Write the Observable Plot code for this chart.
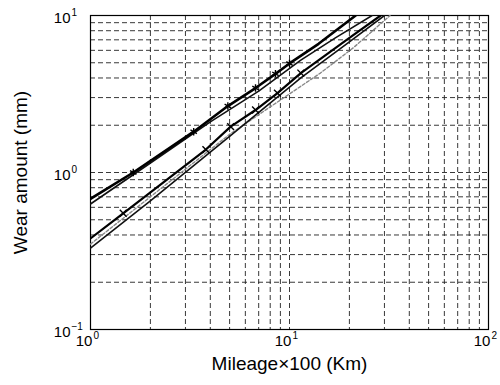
<!DOCTYPE html>
<html>
<head>
<meta charset="utf-8">
<script src="https://cdn.jsdelivr.net/npm/d3@7"></script>
<script src="https://cdn.jsdelivr.net/npm/@observablehq/plot@0.6"></script>
<style>
  html, body { margin: 0; padding: 0; background: #fff; }
  svg { font-family: "Liberation Sans", Arial, sans-serif; }
</style>
</head>
<body>
<div id="chart"></div>
<script>
// ---- data ----
const upper1X = [1, 1.64, 3.3, 4.9, 6.75, 8.5, 10, 14, 21.5];
const upper1Y = [0.68, 1.0, 1.82, 2.65, 3.45, 4.25, 4.95, 6.6, 10];
const upper1Markers = [1.64, 3.3, 4.9, 6.75, 8.5, 10];

const upper2X = [1, 2, 4, 7, 11.4, 17, 26];
const upper2Y = [0.63, 1.15, 2.1, 3.3, 5.2, 7.2, 10];

const lower1X = [1, 1.46, 3.8, 5.06, 6.75, 8.7, 11.4, 20, 28.7];
const lower1Y = [0.38, 0.55, 1.4, 1.96, 2.5, 3.2, 4.3, 7.2, 10];
const lower1Markers = [1.46, 3.8, 5.06, 6.75, 8.7, 11.4];

const lower2X = [1, 2, 5, 11.4, 20, 30];
const lower2Y = [0.33, 0.66, 1.7, 4.0, 6.8, 10];

const grayX = [1, 2, 5, 14.3, 21, 32];
const grayY = [0.35, 0.7, 1.75, 4.3, 6.25, 10];

const xGridTicks = [2, 3, 4, 5, 6, 7, 8, 9, 10, 20, 30, 40, 50, 60, 70, 80, 90, 100];
const yGridTicks = [0.2, 0.3, 0.4, 0.5, 0.6, 0.7, 0.8, 0.9, 1, 2, 3, 4, 5, 6, 7, 8, 9, 10];
const xMajorTicks = [1, 10, 100];
const xMajorExp = ["0", "1", "2"];
const yMajorTicks = [10, 1, 0.1];
const yMajorExp = ["1", "0", "\u22121"];

const xTitle = "Mileage\u00d7100 (Km)";
const yTitle = "Wear amount (mm)";

// ---- build tables ----
const zip = (xs, ys) => xs.map((x, i) => ({x, y: ys[i]}));
const upper1 = zip(upper1X, upper1Y);
const upper2 = zip(upper2X, upper2Y);
const lower1 = zip(lower1X, lower1Y);
const lower2 = zip(lower2X, lower2Y);
const gray = zip(grayX, grayY);
const up1M = upper1.filter(d => upper1Markers.includes(d.x));
const lo1M = lower1.filter(d => lower1Markers.includes(d.x));
const xLab = xMajorTicks.map((v, i) => ({v, e: xMajorExp[i]}));
const yLab = yMajorTicks.map((v, i) => ({v, e: yMajorExp[i]}));

const chart = Plot.plot({
  width: 500,
  height: 385,
  marginLeft: 90,
  marginRight: 12,
  marginTop: 15,
  marginBottom: 56,
  x: {type: "log", domain: [1, 100], axis: null},
  y: {type: "log", domain: [0.1, 10], axis: null},
  style: {background: "#fff", fontFamily: "Liberation Sans, Arial, sans-serif"},
  marks: [
    Plot.ruleX(xGridTicks, {x: d => d, stroke: "#222", strokeWidth: 0.9, strokeDasharray: "5,3"}),
    Plot.ruleY(yGridTicks, {y: d => d, stroke: "#222", strokeWidth: 0.9, strokeDasharray: "5,3"}),
    Plot.frame({stroke: "#000", strokeWidth: 1.2}),
    Plot.line(gray, {x: "x", y: "y", stroke: "#888", strokeWidth: 1.4, strokeDasharray: "3,2", clip: true}),
    Plot.line(lower2, {x: "x", y: "y", stroke: "#111", strokeWidth: 1.6, clip: true}),
    Plot.line(lower1, {x: "x", y: "y", stroke: "#000", strokeWidth: 2.2, clip: true}),
    Plot.line(upper2, {x: "x", y: "y", stroke: "#111", strokeWidth: 1.6, clip: true}),
    Plot.line(upper1, {x: "x", y: "y", stroke: "#000", strokeWidth: 2.6, clip: true}),
    Plot.dot(up1M, {x: "x", y: "y", symbol: "asterisk", r: 3.5, stroke: "#000", strokeWidth: 1.4}),
    Plot.dot(lo1M, {x: "x", y: "y", symbol: "times", r: 3.2, stroke: "#000", strokeWidth: 1.4}),
    // x tick labels
    Plot.text(xLab, {x: "v", y: () => 0.1, text: () => "10", dy: 12, dx: -6.5, fontSize: 15, fill: "#000"}),
    Plot.text(xLab, {x: "v", y: () => 0.1, text: "e", dy: 6.5, dx: 3, fontSize: 10, textAnchor: "start", fill: "#000"}),
    // y tick labels
    Plot.text(yLab, {x: () => 1, y: "v", text: () => "10", dx: -20, dy: 3, fontSize: 15, textAnchor: "end", fill: "#000"}),
    Plot.text(yLab, {x: () => 1, y: "v", text: "e", dx: -19, dy: -3, fontSize: 10, textAnchor: "start", fill: "#000"}),
    // axis titles
    Plot.text([xTitle], {frameAnchor: "bottom", dy: 40, fontSize: 19, fill: "#000"}),
    Plot.text([yTitle], {frameAnchor: "left", dx: -70, rotate: -90, textAnchor: "middle", fontSize: 19, fill: "#000"})
  ]
});
document.getElementById("chart").appendChild(chart);
</script>
</body>
</html>
